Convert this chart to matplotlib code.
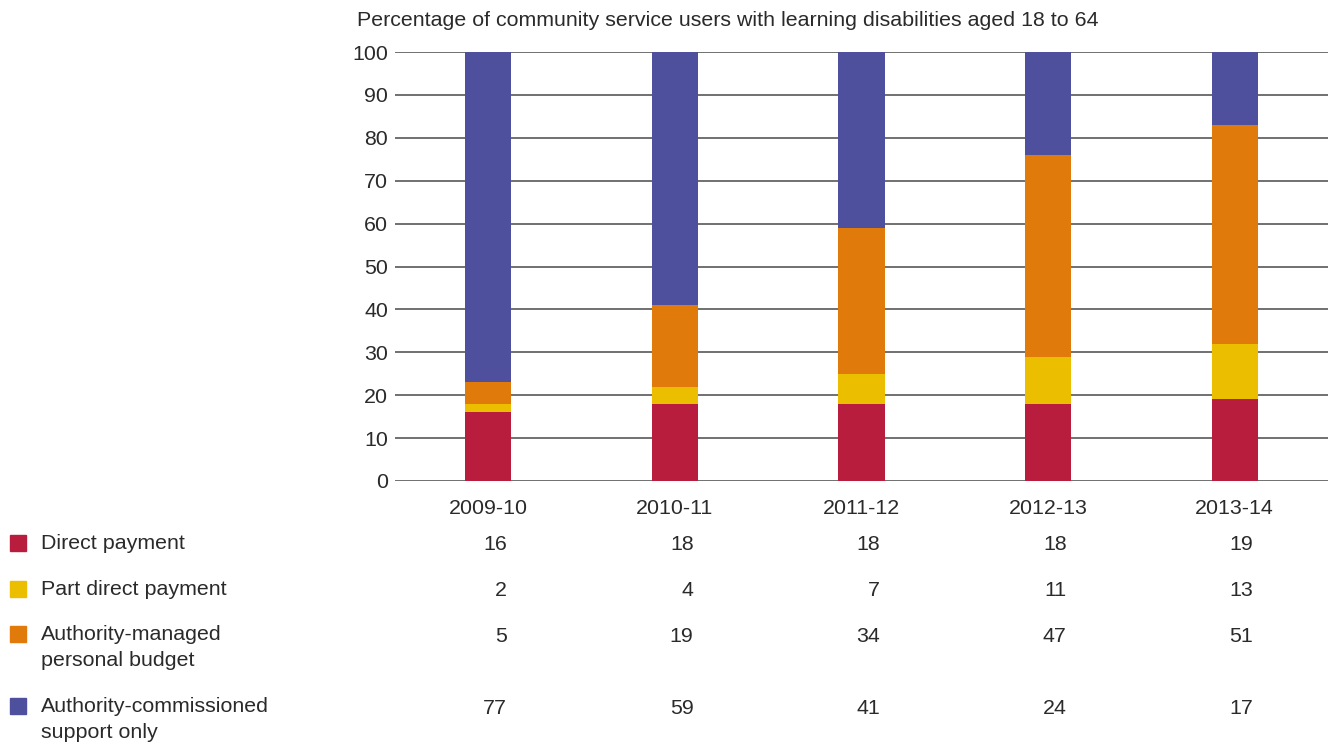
import matplotlib
matplotlib.use("Agg")
import matplotlib.pyplot as plt
import matplotlib.transforms as mtransforms
import numpy as np

plt.rcParams['font.family'] = ['Liberation Sans', 'DejaVu Sans']

years = ["2009-10", "2010-11", "2011-12", "2012-13", "2013-14"]
direct_payment = [16, 18, 18, 18, 19]
part_direct_payment = [2, 4, 7, 11, 13]
authority_managed = [5, 19, 34, 47, 51]
authority_commissioned = [77, 59, 41, 24, 17]

series_labels = ["Direct payment", "Part direct payment",
                 "Authority-managed\npersonal budget",
                 "Authority-commissioned\nsupport only"]
series = [direct_payment, part_direct_payment, authority_managed, authority_commissioned]
colors = ["#B81D3E", "#ECBE00", "#E07A0A", "#4F509D"]

FS = 15.4
TXT = "#2a2a2a"

W, H = 1328, 744
fig = plt.figure(figsize=(W / 100, H / 100), dpi=100)
ax = fig.add_axes([395 / W, 1 - 481 / H, (1328 - 395) / W, (481 - 52) / H])

x = np.arange(len(years))
bottom = np.zeros(len(years))
for vals, c in zip(series, colors):
    ax.bar(x, vals, width=0.247, bottom=bottom, color=c, zorder=3)
    bottom += np.array(vals)

ax.set_xlim(-0.5, len(years) - 0.5)
ax.set_ylim(0, 100)
ax.set_yticks(range(0, 101, 10))
ax.yaxis.grid(True, color="#707070", linewidth=1.4, zorder=0)
for s in ax.spines.values():
    s.set_visible(False)
ax.tick_params(axis='y', length=0, pad=5, labelsize=FS, labelcolor=TXT)
ax.tick_params(axis='x', length=0, pad=13, labelsize=FS, labelcolor=TXT)
ax.set_xticks(x)
ax.set_xticklabels(years)

fig.text(357 / W, 1 - 21 / H,
         "Percentage of community service users with learning disabilities aged 18 to 64",
         ha='left', va='center', fontsize=FS, color=TXT)

# table
row_y = [543, 589, 634, 706]
trans = mtransforms.blended_transform_factory(ax.transData, fig.transFigure)
for vals, lab, c, yy in zip(series, series_labels, colors, row_y):
    yf = 1 - yy / H
    fig.patches.append(plt.Rectangle((10 / W, yf - 8 / H), 16 / W, 16 / H,
                                     transform=fig.transFigure, color=c, figure=fig))
    fig.text(41 / W, yf + 9 / H, lab, ha='left', va='top', fontsize=FS,
             color=TXT, linespacing=1.5)
    for xi, v in zip(x, vals):
        ax.text(xi + 0.1, yf - 2 / H, str(v), transform=trans, ha='right', va='center',
                fontsize=FS, color=TXT)

fig.savefig("out.png", dpi=100)
